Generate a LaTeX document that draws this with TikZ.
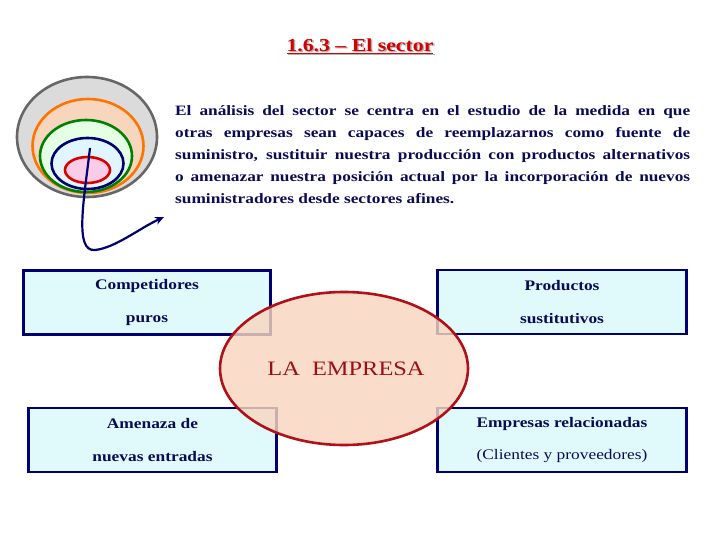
\documentclass[tikz,border=0pt]{standalone}
\usepackage{fontspec}
\setmainfont[FakeStretch=1.19]{Liberation Serif}
\newfontfamily\parafont[FakeStretch=1.21]{Liberation Serif}
\usetikzlibrary{arrows.meta,shapes.geometric}
\definecolor{navy}{HTML}{000070}
\definecolor{txtnavy}{HTML}{0A0A55}
\definecolor{boxfill}{HTML}{E0FAFC}
\definecolor{peach}{HTML}{F8D6BE}
\definecolor{darkred}{HTML}{B01018}
\definecolor{titlered}{HTML}{D40000}
\tikzset{
  boxnode/.style={draw=navy, line width=2.6pt, fill=boxfill, minimum width=#1, minimum height=64pt,
    inner sep=0pt, align=center, text=txtnavy, font=\fontsize{14.6}{32.5}\selectfont\bfseries},
  ring/.style={line width=2.6pt},
}
\begin{document}
\begin{tikzpicture}[x=1pt,y=-1pt]
\useasboundingbox (0,0) rectangle (720,540);
% title
\node[text=gray!60, font=\fontsize{18.3}{22}\selectfont\bfseries] at (361.5,47.5) {\underline{1.6.3 – El sector}};
\node (title) [text=titlered, font=\fontsize{18.3}{22}\selectfont\bfseries] at (360,46) {\underline{1.6.3 – El sector}};
% nested ellipses
\draw[ring, draw=black!60, fill=black!14] (87,137) ellipse [x radius=70, y radius=60];
\draw[ring, draw=orange!90!red, fill=peach] (88,146) ellipse [x radius=55.5, y radius=47];
\draw[ring, draw=green!50!black, fill=green!10] (86,156) ellipse [x radius=46, y radius=36];
\draw[ring, draw=navy, fill=cyan!12] (87.5,163.5) ellipse [x radius=36, y radius=25.5];
\draw[ring, draw=red!85!black, fill=magenta!20] (87.5,170) ellipse [x radius=22.5, y radius=13];
\coordinate (cstart) at (90,148);
\coordinate (cend) at (164,217);
\draw[navy, line width=2.2pt, -{Stealth[length=9pt,width=8pt]}] (cstart) .. controls (84,200) and (74,252) .. (95,250) .. controls (115,248) and (140,228) .. (cend);
% paragraph
\node (para) [anchor=north west, inner sep=0pt, text width=515pt, align=justify, text=txtnavy,
  font=\parafont\fontsize{14.3}{22}\selectfont\bfseries] at (175,105)
  {\hyphenpenalty=10000 \exhyphenpenalty=10000 \emergencystretch=20pt El análisis del sector se centra en el estudio de la medida en que\linebreak otras empresas sean capaces de reemplazarnos como fuente de\linebreak suministro, sustituir nuestra producción con productos alternativos\linebreak o amenazar nuestra posición actual por la incorporación de nuevos\linebreak suministradores desde sectores afines.};
% boxes
\node (comp) [boxnode=247pt] at (147,302.5) {Competidores\\puros};
\node (prod) [boxnode=249pt] at (562,302) {Productos\\sustitutivos};
\node (amen) [boxnode=248pt] at (152.5,440) {Amenaza de\\nuevas entradas};
\node (rel) [boxnode=249pt] at (562,440) {Empresas relacionadas\\\mdseries(Clientes y proveedores)};
% central ellipse
\node (emp) [ellipse, draw=darkred, line width=2.6pt, fill=peach, fill opacity=0.82, text opacity=1,
  minimum width=248pt, minimum height=153pt, inner sep=0pt,
  text=darkred!90!black, font=\fontsize{20.5}{24}\selectfont] at (344,368.5) {\hspace{4pt}LA\ \ EMPRESA};
\end{tikzpicture}
\end{document}
